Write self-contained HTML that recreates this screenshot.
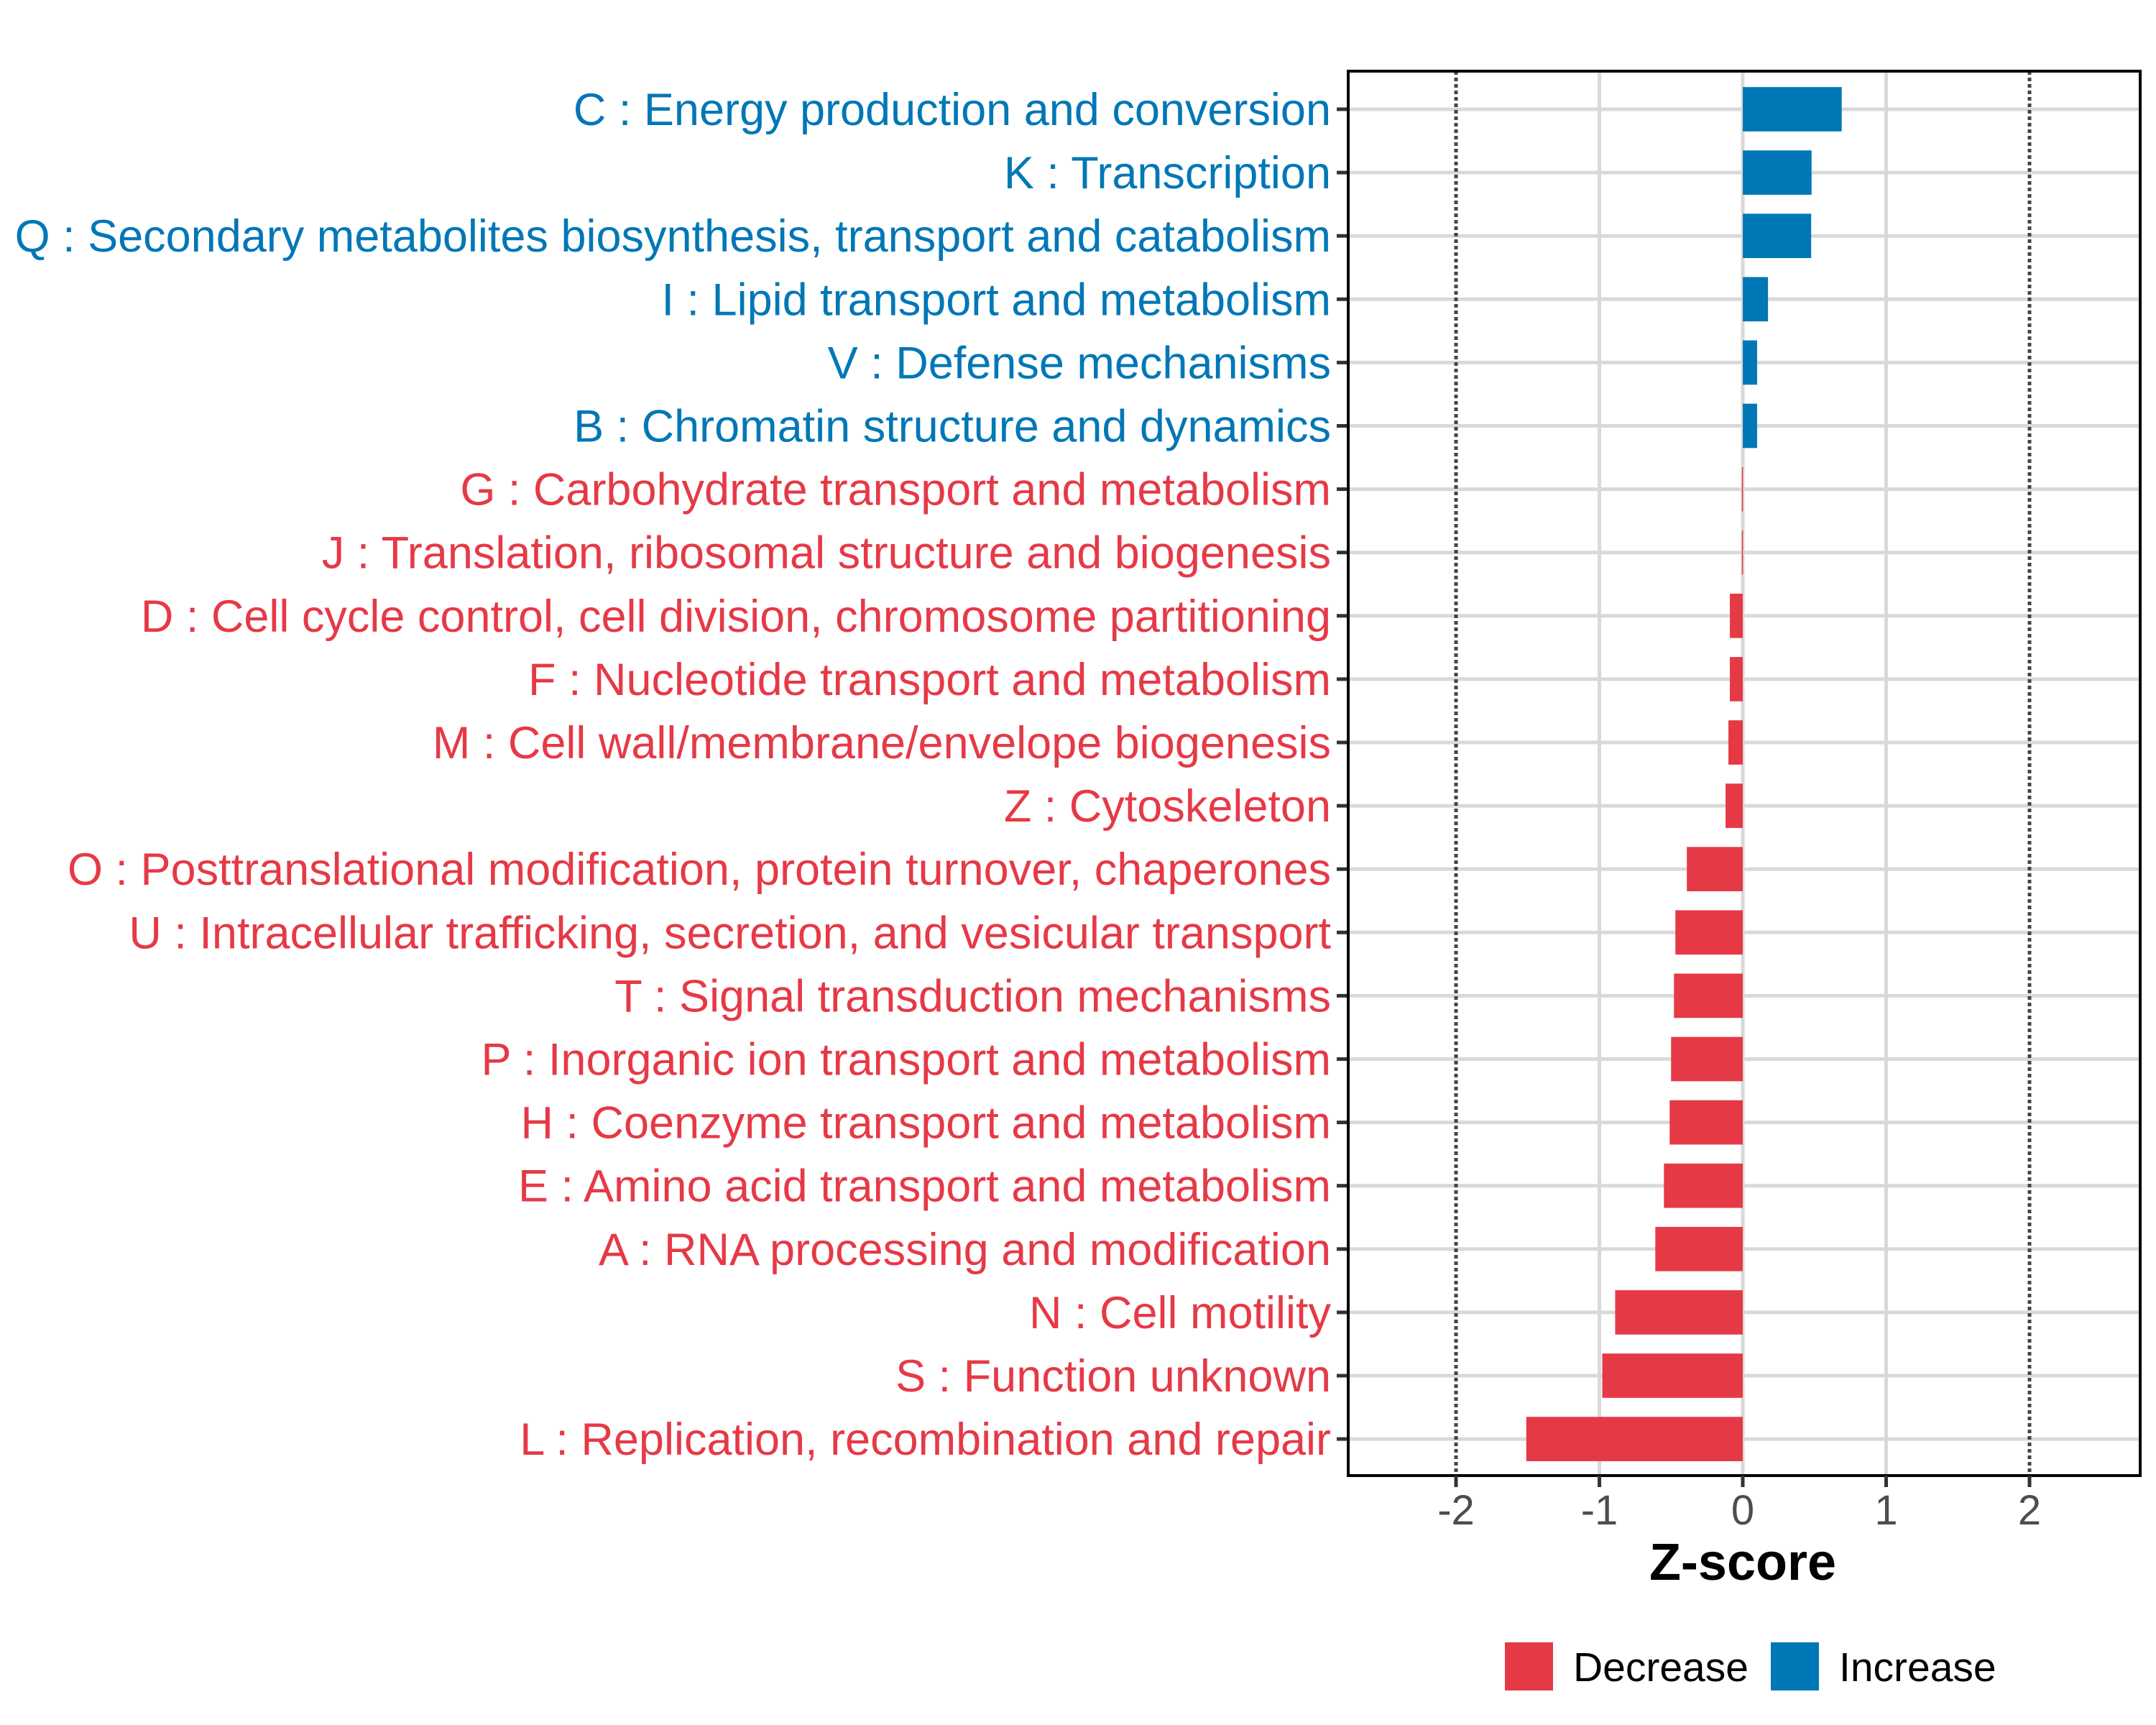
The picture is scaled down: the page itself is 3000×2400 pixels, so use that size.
<!DOCTYPE html>
<html><head><meta charset="utf-8"><style>
html,body{margin:0;padding:0;background:#fff;}
svg{display:block;font-family:"Liberation Sans",Arial,sans-serif;}
</style></head><body>
<svg id="chart" width="3000" height="2400" viewBox="0 0 3000 2400" xmlns="http://www.w3.org/2000/svg">
<rect x="0" y="0" width="3000" height="2400" fill="#fff"/>
<g id="grid"></g>
<g id="bars"></g>
<g id="axes"></g>
</svg>
<script>
const categories = [
"C : Energy production and conversion",
"K : Transcription",
"Q : Secondary metabolites biosynthesis, transport and catabolism",
"I : Lipid transport and metabolism",
"V : Defense mechanisms",
"B : Chromatin structure and dynamics",
"G : Carbohydrate transport and metabolism",
"J : Translation, ribosomal structure and biogenesis",
"D : Cell cycle control, cell division, chromosome partitioning",
"F : Nucleotide transport and metabolism",
"M : Cell wall/membrane/envelope biogenesis",
"Z : Cytoskeleton",
"O : Posttranslational modification, protein turnover, chaperones",
"U : Intracellular trafficking, secretion, and vesicular transport",
"T : Signal transduction mechanisms",
"P : Inorganic ion transport and metabolism",
"H : Coenzyme transport and metabolism",
"E : Amino acid transport and metabolism",
"A : RNA processing and modification",
"N : Cell motility",
"S : Function unknown",
"L : Replication, recombination and repair"];
const zscores = [0.69,0.48,0.477,0.176,0.1,0.1,-0.006,-0.006,-0.09,-0.09,-0.1,-0.12,-0.39,-0.47,-0.48,-0.5,-0.51,-0.55,-0.61,-0.89,-0.98,-1.51];
const xTicks = [-2,-1,0,1,2];
const xTickLabels = ["-2","-1","0","1","2"];
const thresholds = [-2,2];

const NS="http://www.w3.org/2000/svg";
const L=1876,R=2978,T=99,B=2053,X0=2425,PX=199.5,Y1=152,STEP=88.1;
const RED="#E63946",BLUE="#0077B6";
function xs(v){return X0+v*PX;}
function ys(i){return Y1+i*STEP;}
function mk(tag,attrs,parent){const e=document.createElementNS(NS,tag);for(const k in attrs)e.setAttribute(k,attrs[k]);parent.appendChild(e);return e;}
const grid=document.getElementById('grid'),bars=document.getElementById('bars'),axes=document.getElementById('axes');

xTicks.forEach((t,i)=>{
  if(thresholds.includes(t))return;
  const l=mk('line',{x1:xs(t),x2:xs(t),y1:T,y2:B,stroke:'#d9d9d9','stroke-width':5},grid);
  
  
});
categories.forEach((c,i)=>{
  const l=mk('line',{x1:L,x2:R,y1:ys(i),y2:ys(i),stroke:'#d9d9d9','stroke-width':5},grid);
  
  
});
thresholds.forEach(t=>{
  const l=mk('line',{x1:xs(t),x2:xs(t),y1:T,y2:B,stroke:'#444','stroke-width':5,'stroke-dasharray':'5 4'},grid);
  
  
});
const bh=STEP*0.7;
zscores.forEach((v,i)=>{
  const x=Math.min(xs(0),xs(v)),w=Math.max(Math.abs(xs(v)-xs(0)),1.5);
  const r=mk('rect',{x:x,y:ys(i)-bh/2,width:w,height:bh,fill:v>=0?BLUE:RED},bars);
  
  
  const tk=mk('line',{x1:L-16,x2:L,y1:ys(i),y2:ys(i),stroke:'#333','stroke-width':5},axes);
  
  
  const tx=mk('text',{x:1852,y:ys(i)+22,'text-anchor':'end','font-size':63,fill:v>=0?BLUE:RED},axes);
  tx.textContent=categories[i];
  
  
});
const fr=mk('rect',{x:L,y:T,width:R-L,height:B-T,fill:'none',stroke:'#000','stroke-width':4},axes);


xTicks.forEach((t,i)=>{
  const tk=mk('line',{x1:xs(t),x2:xs(t),y1:B,y2:B+16,stroke:'#333','stroke-width':5},axes);
  
  
  const tx=mk('text',{x:xs(t),y:2121,'text-anchor':'middle','font-size':58,fill:'#4d4d4d'},axes);
  tx.textContent=xTickLabels[i];
  
  
});
const title=mk('text',{x:X0,y:2198,'text-anchor':'middle','font-size':72,'font-weight':'bold',fill:'#000'},axes);
title.textContent='Z-score';


const legend=mk('g',{},axes);


[["Decrease",RED,2094,2189],["Increase",BLUE,2464,2559]].forEach(([lab,col,kx,tx0])=>{
  const k=mk('rect',{x:kx,y:2285,width:67,height:67,fill:col},legend);
  
  
  const t=mk('text',{x:tx0,y:2339,'font-size':57,fill:'#000'},legend);
  t.textContent=lab;
  
  
});
</script>
</body></html>
